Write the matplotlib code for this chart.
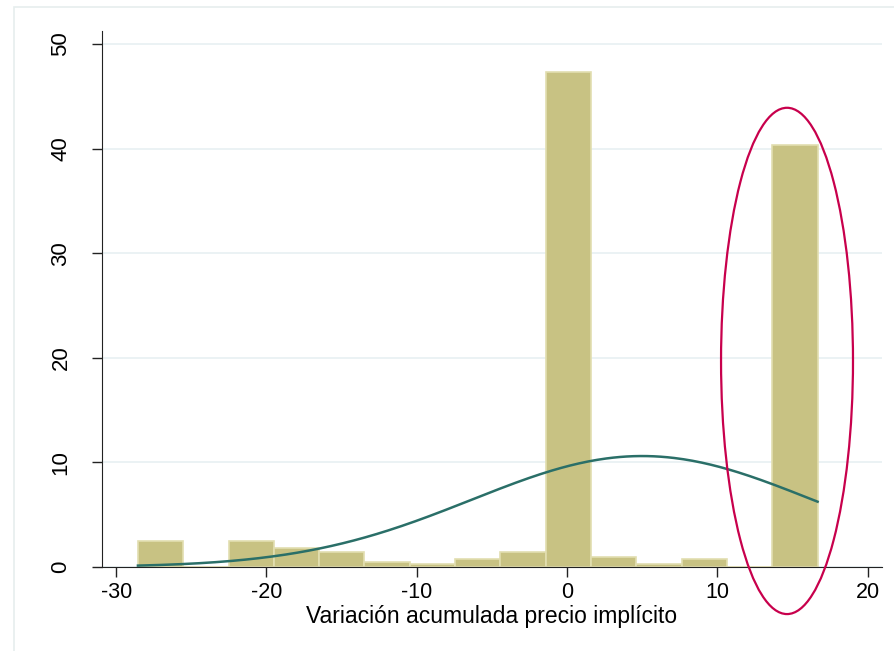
import numpy as np
import matplotlib
matplotlib.use('Agg')
import matplotlib.pyplot as plt
from matplotlib.patches import Ellipse, Rectangle

plt.rcParams['font.family'] = ['Liberation Sans', 'DejaVu Sans']
plt.rcParams['axes.unicode_minus'] = False

## histogram values (percent), 15 bins from min to max
bin_start = -28.55
bin_width = 3.015
pct = [2.49, 0.0, 2.49, 1.78, 1.40, 0.45, 0.26, 0.74, 1.40, 47.3, 0.93, 0.26, 0.74, 0.0, 40.3]

# normal overlay
mu = 5.0
sd = 11.34

# highlighted area (ellipse)
ell_center = (14.64, 19.7)
ell_w = 8.78
ell_h = 48.4

xticks = [-30, -20, -10, 0, 10, 20]
yticks = [0, 10, 20, 30, 40, 50]

W, H = 895, 651
fig = plt.figure(figsize=(W / 100, H / 100), dpi=100)
fig.patch.set_facecolor('white')

# light outer frame (Stata graph region)
fig.add_artist(Rectangle((14 / W, -0.1), 1.2, 1 - 7 / H + 0.1, transform=fig.transFigure,
                         fill=False, edgecolor='#e6eeee', linewidth=1.2))

ax = fig.add_axes([102 / W, 1 - 567 / H, (882 - 102) / W, (567 - 31) / H])
ax.set_xlim(-30.94, 20.96)
ax.set_ylim(0, 51.24)

edges = bin_start + bin_width * np.arange(len(pct) + 1)
ax.bar(edges[:-1], pct, width=bin_width, align='edge', color='#c8c283',
       edgecolor='#e2deb0', linewidth=1.2, zorder=2)

xs = np.linspace(edges[0], edges[-1], 300)
ys = 100 * bin_width * np.exp(-0.5 * ((xs - mu) / sd) ** 2) / (np.sqrt(2 * np.pi) * sd)
ax.plot(xs, ys, color='#2a6f68', linewidth=1.8, zorder=3)

ell = Ellipse(ell_center, ell_w, ell_h, fill=False, edgecolor='#c8004c', linewidth=1.6,
              clip_on=False, zorder=4)
ax.add_patch(ell)

ax.set_xticks(xticks)
ax.set_xticklabels([str(v) for v in xticks])
ax.set_yticks(yticks)
ax.set_yticklabels([str(v) for v in yticks], rotation=90, va='center')
ax.tick_params(axis='both', labelsize=15.5, length=7, width=1, color='#222222')
ax.tick_params(axis='x', pad=4)
ax.tick_params(axis='y', labelsize=16, pad=15)
ax.grid(axis='y', color='#e8f0f2', linewidth=1.2, zorder=0)
ax.set_axisbelow(True)

for s in ['top', 'right']:
    ax.spines[s].set_visible(False)
ax.spines['left'].set_color('#222222')
ax.spines['bottom'].set_color('#222222')

ax.set_xlabel('Variación acumulada precio implícito', fontsize=16.5, labelpad=1)

plt.savefig('out.png', dpi=100)
